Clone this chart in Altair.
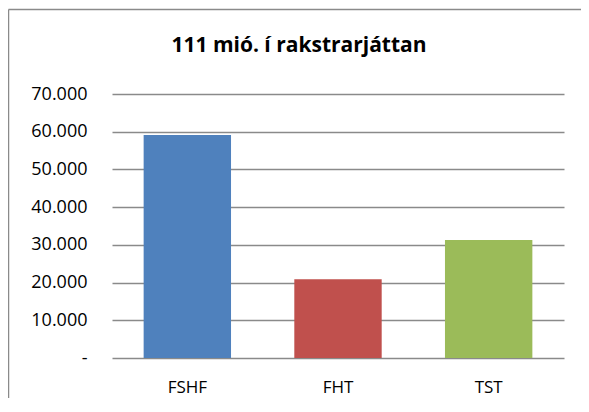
import altair as alt
import pandas as pd

categories = ["FSHF", "FHT", "TST"]
values = [59100, 20900, 31300]
colors = ["#4F81BD", "#C0504D", "#9BBB59"]
y_ticks = [0, 10000, 20000, 30000, 40000, 50000, 60000, 70000]
title_text = "111 mió. í rakstrarjáttan"

df = pd.DataFrame({"cat": categories, "val": values})

FONT = "Open Sans"

bars = alt.Chart(df).mark_bar().encode(
    x=alt.X("cat:N", sort=categories,
            scale=alt.Scale(paddingInner=0.42, paddingOuter=0.21),
            axis=alt.Axis(title=None, labelAngle=0, ticks=False, domain=False,
                          labelPadding=21, labelFontSize=17, labelFont=FONT,
                          labelColor="#000000", grid=False)),
    y=alt.Y("val:Q", scale=alt.Scale(domain=[0, 70000], nice=False),
            axis=alt.Axis(title=None, values=y_ticks, ticks=False, domain=False,
                          labelPadding=25, labelFontSize=18, labelFont=FONT,
                          labelColor="#000000",
                          labelExpr="datum.value == 0 ? '-\u00a0\u00a0\u00a0' : replace(format(datum.value, ',d'), ',', '.')",
                          grid=True, gridColor="#8a8a8a", gridWidth=1.5)),
    color=alt.Color("cat:N", scale=alt.Scale(domain=categories, range=colors), legend=None),
)

title = alt.Chart(pd.DataFrame({"t": [title_text]})).mark_text(
    font=FONT, fontSize=21, fontWeight="bold", color="#000000",
    align="center", baseline="alphabetic"
).encode(text="t:N", x=alt.value(187), y=alt.value(-42))

frame = pd.DataFrame({"a": [0]})
left_edge = alt.Chart(frame).mark_rule(stroke="#8a8a8a", strokeWidth=1.5).encode(
    x=alt.value(-103.5), y=alt.value(-84.5), y2=alt.value(304))
top_edge = alt.Chart(frame).mark_rule(stroke="#8a8a8a", strokeWidth=1.5).encode(
    x=alt.value(-103.5), x2=alt.value(469), y=alt.value(-84.5))

chart = alt.layer(left_edge, top_edge, bars, title).properties(
    width=452, height=264,
    autosize=alt.AutoSizeParams(type="none"),
    padding={"left": 104, "top": 86, "right": 17, "bottom": 40},
).configure_view(stroke=None)

chart.save("out.html", embed_options={"renderer": "svg", "actions": False})
